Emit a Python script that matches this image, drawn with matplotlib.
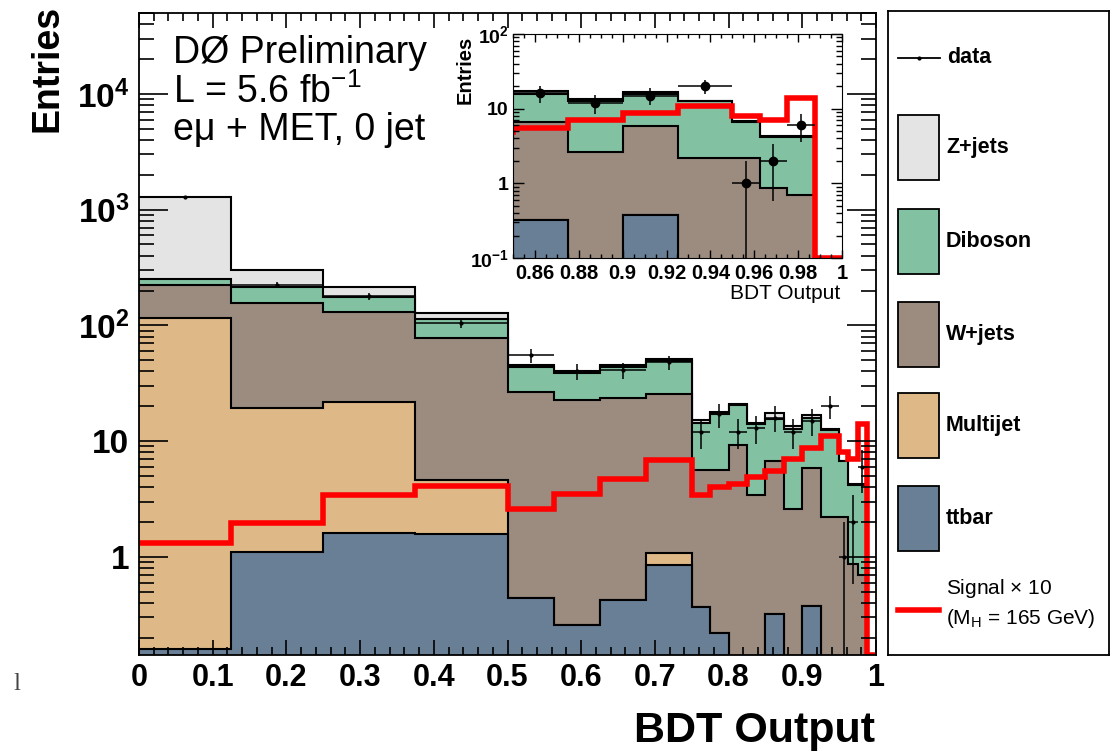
import numpy as np
import matplotlib.pyplot as plt
from matplotlib.ticker import FixedLocator, FixedFormatter, MultipleLocator, LogLocator, NullFormatter
from matplotlib.patches import Rectangle

plt.rcParams['font.family'] = ['Liberation Sans', 'DejaVu Sans']
plt.rcParams['mathtext.fontset'] = 'custom'
plt.rcParams['mathtext.rm'] = 'Liberation Sans'
plt.rcParams['mathtext.bf'] = 'Liberation Sans:bold'
plt.rcParams['mathtext.it'] = 'Liberation Sans:italic'

# BDT output bins
edges = np.array([0, 0.125, 0.25, 0.375, 0.5, 0.5625, 0.625, 0.6875, 0.75,
                  0.775, 0.8, 0.825, 0.85, 0.875, 0.9, 0.925, 0.95,
                  0.9625, 0.975, 0.9875, 1.0])

# backgrounds per bin (not stacked)
ttbar = np.array([0.16, 1.11, 1.6, 1.57, 0.44, 0.26, 0.42, 0.85, 0.37, 0.22,
                  0, 0, 0.32, 0, 0.38, 0, 0, 0, 0, 0])
multijet = np.array([115.8, 18.2, 20.1, 3.0, 0, 0, 0, 0.23, 0, 0,
                     0, 0, 0, 0, 0, 0, 0, 0, 0, 0])
wjets = np.array([108, 137, 110, 73, 26.4, 22.4, 23.1, 24.5, 5.3, 5.4,
                  9.3, 3.4, 6.4, 2.6, 5.5, 2.2, 2.2, 0.86, 0.70, 0])
diboson = np.array([27, 59, 43, 36, 17, 16, 20, 24, 8.8, 11.4,
                    11.2, 10.6, 8.8, 10.1, 9.9, 10.3, 4.5, 3.3, 3.5, 0])
zjets = np.array([1034, 88, 39, 15, 1.6, 2, 1.6, 2, 0.8, 0.7,
                  0.5, 0.3, 1.9, 0.9, 0.9, 0.3, 0.1, 0.1, 0.1, 0])
signal_x10 = np.array([1.33, 1.96, 3.43, 4.1, 2.58, 3.5, 4.7, 6.9, 3.4, 4.0,
                       4.3, 4.9, 5.5, 7.0, 8.7, 11.0, 8.0, 7.0, 14.0, 0])
data = np.array([1285, 224, 178, 105, 55, 40, 41, 48, 12, 17,
                 12, 13, 16, 12, 15, 20, 1, 2, 6, 0])

names = ['ttbar', 'Multijet', 'W+jets', 'Diboson', 'Z+jets']
colors = ['#687f96', '#deb887', '#9b8c7f', '#82c2a2', '#e4e4e4']
stack = np.cumsum([ttbar, multijet, wjets, diboson, zjets], axis=0)

centers = 0.5 * (edges[1:] + edges[:-1])
halfw = 0.5 * (edges[1:] - edges[:-1])


def draw_hists(ax, ymin, ms):
    # stacked histograms, top one first so the lower ones cover it
    for i in range(len(names) - 1, -1, -1):
        ax.stairs(stack[i], edges, baseline=1e-4, fill=True, color=colors[i], lw=0)
        ax.stairs(stack[i], edges, baseline=None, color='black', lw=1.5)
    ax.stairs(np.maximum(signal_x10, ymin), edges, baseline=None, color='red', lw=4)
    ok = data > 0
    ax.errorbar(centers[ok], data[ok], xerr=halfw[ok], yerr=np.sqrt(data[ok]),
                fmt='o', color='black', ms=ms, elinewidth=1.1, capsize=0)


W, H = 1111, 752
fig = plt.figure(figsize=(W / 100, H / 100), dpi=100)

# main plot
ax = fig.add_axes([139 / W, 1 - 655 / H, (876 - 139) / W, (655 - 13) / H])
ax.set_yscale('log')
ymin = 0.142
draw_hists(ax, ymin, 2)
ax.set_xlim(0, 1)
ax.set_ylim(ymin, 5e4)

ax.xaxis.set_major_locator(MultipleLocator(0.1))
ax.xaxis.set_minor_locator(MultipleLocator(0.02))
ax.yaxis.set_major_locator(FixedLocator([1, 10, 100, 1000, 10000]))
ax.yaxis.set_major_formatter(FixedFormatter(['1', '10', r'$\mathbf{10^{2}}$',
                                             r'$\mathbf{10^{3}}$', r'$\mathbf{10^{4}}$']))
ax.yaxis.set_minor_locator(LogLocator(base=10, subs=np.arange(2, 10), numticks=20))
ax.yaxis.set_minor_formatter(NullFormatter())
ax.xaxis.set_major_formatter(plt.FuncFormatter(lambda v, p: '%g' % round(v, 2)))
ax.tick_params(which='both', direction='in', top=True, right=True, width=1.2)
ax.tick_params(axis='x', which='major', length=11, labelsize=22, pad=6)
ax.tick_params(axis='x', which='minor', length=5.5)
ax.tick_params(axis='y', which='major', length=21, labelsize=24, pad=7)
ax.tick_params(axis='y', which='minor', length=11)
for lab in ax.get_xticklabels() + ax.get_yticklabels():
    lab.set_fontweight('bold')
for s in ax.spines.values():
    s.set_linewidth(1.3)

fig.text(30 / W, 1 - 5 / H, 'Entries', rotation=90, ha='left', va='top',
         fontsize=27, fontweight='bold')
fig.text(875 / W, 1 - 742 / H, 'BDT Output', ha='right', va='baseline',
         fontsize=31, fontweight='bold')
fig.text(13 / W, 1 - 690 / H, 'l', fontsize=18, color='#444444', family='Liberation Serif')

ax.text(173 / W, 1 - 63 / H, 'DØ Preliminary', transform=fig.transFigure,
        fontsize=27, va='baseline')
ax.text(173 / W, 1 - 103 / H, r'L = 5.6 fb$^{\mathregular{-1}}$', transform=fig.transFigure,
        fontsize=27, va='baseline')
ax.text(173 / W, 1 - 140 / H, 'eμ + MET, 0 jet', transform=fig.transFigure,
        fontsize=27, va='baseline')

# inset zoom on the high BDT region
ins = fig.add_axes([513 / W, 1 - 258 / H, (842 - 513) / W, (258 - 34) / H])
ins.set_yscale('log')
draw_hists(ins, 0.1, 6)
ins.set_xlim(0.85, 1.0)
ins.set_ylim(0.1, 100)
ins.xaxis.set_major_locator(MultipleLocator(0.02))
ins.xaxis.set_minor_locator(MultipleLocator(0.005))
ins.xaxis.set_major_formatter(plt.FuncFormatter(lambda v, p: '%g' % round(v, 2)))
ins.yaxis.set_major_locator(FixedLocator([0.1, 1, 10, 100]))
ins.yaxis.set_major_formatter(FixedFormatter([r'$\mathbf{10^{-1}}$', '1', '10',
                                              r'$\mathbf{10^{2}}$']))
ins.yaxis.set_minor_locator(LogLocator(base=10, subs=np.arange(2, 10), numticks=20))
ins.yaxis.set_minor_formatter(NullFormatter())
ins.tick_params(which='both', direction='in', top=True, right=True, width=1.0)
ins.tick_params(axis='x', which='major', length=6, labelsize=14.5, pad=4)
ins.tick_params(axis='x', which='minor', length=3)
ins.tick_params(axis='y', which='major', length=8, labelsize=14, pad=3)
ins.tick_params(axis='y', which='minor', length=4)
for lab in ins.get_xticklabels() + ins.get_yticklabels():
    lab.set_fontweight('bold')
fig.text(840 / W, 1 - 299 / H, 'BDT Output', ha='right', va='baseline', fontsize=15)
fig.text(456 / W, 1 - 36 / H, 'Entries', rotation=90, ha='left', va='top', fontsize=14.5,
         fontweight='bold')

# legend box
lg = fig.add_axes([888 / W, 1 - 655 / H, (1109 - 888) / W, (655 - 11) / H])
lg.set_xlim(888, 1109)
lg.set_ylim(655, 11)
lg.set_xticks([])
lg.set_yticks([])
for s in lg.spines.values():
    s.set_linewidth(1.3)
lg.plot([898, 940], [58, 58], color='black', lw=1.3)
lg.plot([919], [58], 'o', color='black', ms=2)
lg.text(947, 58, 'data', fontsize=15.5, va='center', fontweight='bold')
box_y = [115, 209, 302, 393, 486]
for i, y0 in zip([4, 3, 2, 1, 0], box_y):
    lg.add_patch(Rectangle((898, y0), 41, 65, facecolor=colors[i], edgecolor='black', lw=1.3))
    lg.text(946, y0 + 33, names[i], fontsize=15.5, va='center', fontweight='bold')
lg.plot([898, 939], [610, 610], color='red', lw=4)
lg.text(946, 589, r'Signal $\times$ 10', fontsize=15, va='center')
lg.text(946, 619, r'(M$_{\mathregular{H}}$ = 165 GeV)', fontsize=15, va='center')

fig.savefig('out.png', dpi=100)
